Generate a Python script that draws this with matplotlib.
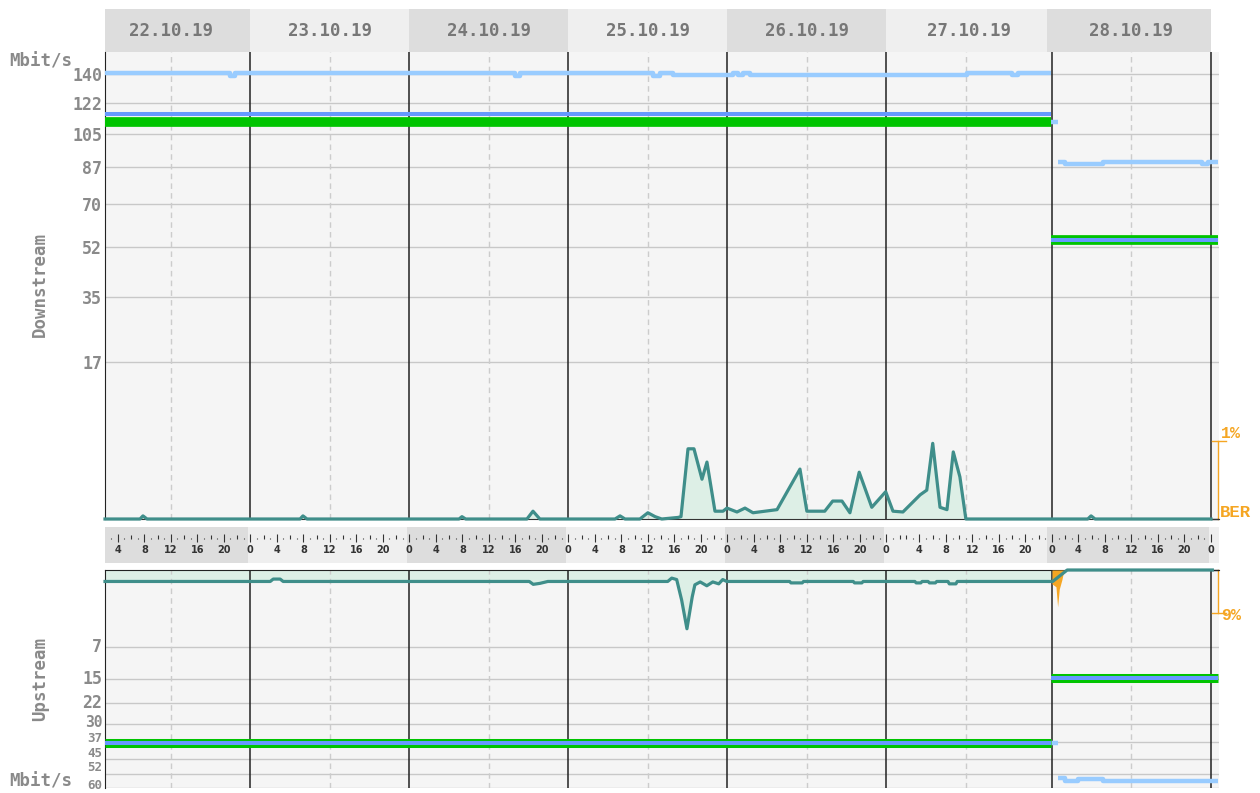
import numpy as np
import matplotlib
matplotlib.use("Agg")
import matplotlib.pyplot as plt
import matplotlib.transforms as mtransforms

plt.rcParams['font.family'] = ['DejaVu Sans Mono', 'DejaVu Sans']
plt.rcParams['font.weight'] = 'bold'

# time axis: hours since 22.10.19 00:00 (27.10. has 25 h, end of DST)
days = ["22.10.19", "23.10.19", "24.10.19", "25.10.19", "26.10.19", "27.10.19", "28.10.19"]
day_start = [0, 24, 48, 72, 96, 120, 145]
day_len = [24, 24, 24, 24, 24, 25, 24]
day_end = 169
t_first, t_last = 2.06, 170.21

ds_ticks = [17.5, 35, 52.5, 70, 87.5, 105, 122.5, 140]
ds_labels = ["17", "35", "52", "70", "87", "105", "122", "140"]
us_ticks = [7.5, 15, 22.5, 30, 37.5, 45, 52.5, 60]
us_labels = ["7", "15", "22", "30", "37", "45", "52", "60"]

# downstream rates, Mbit/s (nan = gap)
ds_cap_t = [2.06, 20.92, 21.67, 63.94, 64.70, 84.77, 85.83, 87.79, 96.85, 97.6, 98.36, 99.4,
            132.2, 133.7, 138.96, 139.87, 144.92, 144.92, 145.9, 145.9, 146.96, 152.7,
            167.6, 168.5, 170.1]
ds_cap_v = [140.5, 139.0, 140.5, 139.0, 140.5, 139.0, 140.5, 139.4, 141.0, 139.4, 141.0, 139.4,
            140.5, 141.0, 139.4, 141.0, np.nan, 111.5, np.nan, 90.3, 89.1, 90.3,
            89.1, 90.3, 90.3]
ds_max_t = [2.06, 144.92, 144.92, 170.1]
ds_max_v = [116.0, np.nan, 54.9, 54.9]
ds_rate_t = [2.06, 144.92, 144.92, 170.1]
ds_rate_v = [111.5, np.nan, 54.9, 54.9]

# downstream BER, %
ber_t = [2.06, 7.34, 7.79, 8.4, 31.5, 31.94, 32.55, 55.5, 55.94, 56.5, 65.75, 66.66, 67.7,
         79.04, 79.8, 80.55, 82.8, 84.0, 85.1, 86.1, 88.55, 89.0, 90.06, 90.96, 92.17, 92.92,
         94.13, 95.34, 95.94, 97.45, 98.66, 99.87, 103.5, 106.96, 108.0, 110.7, 111.9, 113.3,
         114.5, 115.9, 117.8, 119.9, 121.0, 122.5, 125.1, 126.1, 127.0, 128.1, 129.15, 130.1,
         131.1, 132.0, 150.4, 150.9, 151.5, 169.0]
ber_v = [0, 0, 0.04, 0, 0, 0.04, 0, 0, 0.03, 0, 0, 0.1, 0,
         0, 0.04, 0, 0, 0.08, 0.03, 0, 0.02, 0.03, 0.9, 0.9, 0.51, 0.73,
         0.10, 0.10, 0.14, 0.09, 0.14, 0.08, 0.12, 0.64, 0.10, 0.10, 0.23, 0.23,
         0.08, 0.60, 0.15, 0.35, 0.10, 0.09, 0.31, 0.37, 0.97, 0.15, 0.12, 0.86,
         0.54, 0, 0, 0.04, 0, 0]

# upstream rates, Mbit/s
us_cap_t = [144.92, 145.9, 145.9, 146.96, 148.9, 152.7, 170.1]
us_cap_v = [37.9, np.nan, 54.5, 56.2, 55.2, 56.2, 56.2]
us_max_t = [2.06, 144.92, 144.92, 170.1]
us_max_v = [38.0, np.nan, 14.6, 14.6]
us_rate_t = [2.06, 144.92, 144.92, 170.1]
us_rate_v = [38.0, np.nan, 14.6, 14.6]

# upstream error share, %
us_err_t = [2.06, 27.0, 27.45, 28.5, 28.95, 66.1, 66.7, 67.7, 68.9, 87.0, 87.6, 88.35, 89.1,
            89.9, 90.7, 91.1, 91.9, 92.9, 93.8, 94.7, 95.3, 95.9, 105.4, 105.6, 107.3, 107.5,
            115.0, 115.2, 116.3, 116.5, 124.3, 124.5, 125.2, 125.4, 126.3, 126.5, 127.4, 127.6,
            129.3, 129.5, 130.5, 130.7, 145.1, 147.3, 169.2]
us_err_v = [2.4, 2.4, 1.9, 1.9, 2.4, 2.4, 3.0, 2.8, 2.4, 2.4, 1.7, 2.0, 6.3,
            12.3, 5.6, 3.1, 2.5, 3.3, 2.5, 2.9, 2.0, 2.4, 2.4, 2.7, 2.7, 2.4,
            2.4, 2.7, 2.7, 2.4, 2.4, 2.7, 2.7, 2.4, 2.4, 2.7, 2.7, 2.4,
            2.4, 2.9, 2.9, 2.4, 2.4, 0, 0]
us_warn_t = [145.0, 145.6, 145.85, 146.1, 146.5, 146.8]
us_warn_v = [2.9, 3.5, 7.7, 4.0, 2.0, 0]

LBLUE = '#99ccff'
BLUE = '#6699ff'
GREEN = '#00c400'
TEAL = '#3f8e8a'
TFILL = '#ddefe6'
ORANGE = '#f5a623'
GRAY = '#8a8a8a'

W, H = 1260, 793
fig = plt.figure(figsize=(W / 100, H / 100), dpi=100)


def box(x0, y0, x1, y1):
    return fig.add_axes([x0 / W, 1 - y1 / H, (x1 - x0) / W, (y1 - y0) / H])


def fwd(v):
    return np.sqrt(np.maximum(v, 0))


def inv(v):
    return np.square(v)


ax_hd = box(105, 9, 1219, 52)
ax_ds = box(105, 52, 1219, 519)
ax_tk = box(105, 527, 1219, 563)
ax_us = box(105, 570, 1219, 788)
ax_ber = box(105, 52, 1219, 519)
ax_pct = box(105, 570, 1219, 788)

for a in (ax_hd, ax_ds, ax_tk, ax_us, ax_ber, ax_pct):
    a.set_xlim(t_first, t_last)

ax_ber.set_ylim(0, 467 / 78)
ax_pct.set_ylim(218 / 43 * 9, 0)
ax_ber.set_visible(False)
ax_pct.set_visible(False)

# header with dates
ax_hd.set_ylim(0, 1)
ax_hd.axis('off')
for i, (s, n) in enumerate(zip(day_start, day_len)):
    left = max(s, t_first) - (0.75 if i == 6 else 0)
    right = s + n - (0.75 if i == 5 else 0)
    ax_hd.axvspan(left, right, color='#dddddd' if i % 2 == 0 else '#efefef', lw=0)
    ax_hd.text(s + n / 2, 0.5, days[i], ha='center', va='center', fontsize=12.5, color='#777777')

# hour strip
ax_tk.set_ylim(0, 1)
ax_tk.set_facecolor('#efefef')
for sp in ax_tk.spines.values():
    sp.set_visible(False)
ax_tk.set_xticks([])
ax_tk.set_yticks([])
for i, (s, n) in enumerate(zip(day_start, day_len)):
    if i % 2 == 0:
        left = max(s, t_first) - (0.75 if i == 6 else 0.3)
        ax_tk.axvspan(left, s + n - 0.3, color='#dddddd', lw=0)
    for k in range(n):
        hr = k if n == 24 or k < 3 else k - 1
        t = s + k
        if t < t_first:
            continue
        if hr % 4 == 0:
            ax_tk.vlines(t, 0.597, 0.806, color='#333333', lw=0.8)
            ax_tk.text(t, 0.36, str(hr), ha='center', va='center', fontsize=7,
                       color='#333333', family='DejaVu Sans')
        elif hr % 2 == 0:
            ax_tk.vlines(t, 0.667, 0.764, color='#333333', lw=0.8)
        else:
            ax_tk.vlines(t, 0.667, 0.708, color='#333333', lw=0.8)
ax_tk.vlines(day_end, 0.597, 0.806, color='#333333', lw=0.8)
ax_tk.text(day_end, 0.36, '0', ha='center', va='center', fontsize=7,
           color='#333333', family='DejaVu Sans')

# common frame for both panels
for a, ticks in ((ax_ds, ds_ticks), (ax_us, us_ticks)):
    a.set_facecolor('#f5f5f5')
    a.set_yscale('function', functions=(fwd, inv))
    a.set_xticks([])
    for v in ticks:
        a.axhline(v, color='#c8c8c8', lw=1, zorder=1)
    for s, n in zip(day_start, day_len):
        a.axvline(s + 12, color='#cccccc', lw=1, ls=(0, (4, 3)), zorder=1.5)
    for s in day_start[1:] + [day_end]:
        a.axvline(s, color='#222222', lw=1.1, zorder=2)
    for sp in a.spines.values():
        sp.set_visible(False)
    a.spines['left'].set_visible(True)
    a.spines['left'].set_color('#222222')

ax_ds.set_yticks(ds_ticks)
ax_ds.set_yticklabels(ds_labels)
ax_ds.tick_params(axis='y', length=0, pad=2, labelsize=12, labelcolor=GRAY)

# upstream labels are packed tightly at the bottom, nudge them apart by hand
ax_us.set_yticks([])
tr_us_lab = mtransforms.blended_transform_factory(ax_us.transAxes, ax_us.transData)
nudge = {'30': 1.15, '37': 2.9, '45': 4.1, '52': 4.3, '60': -0.7}
lab_size = {'7': 12, '15': 12, '22': 12, '30': 10.5}
for v, lbl in zip(us_ticks, us_labels):
    ax_us.annotate(lbl, xy=(0, v), xycoords=tr_us_lab, xytext=(-2, nudge.get(lbl, 0)),
                   textcoords='offset points', ha='right',
                   va='baseline' if lbl == '60' else 'center',
                   fontsize=lab_size.get(lbl, 9), color=GRAY, annotation_clip=False)

ax_ds.set_ylim(0, 154.3)
ax_us.set_ylim(60, 0)
ax_ds.spines['bottom'].set_visible(True)
ax_ds.spines['bottom'].set_color('#333333')
ax_ds.spines['bottom'].set_linewidth(0.8)
ax_us.spines['top'].set_visible(True)
ax_us.spines['top'].set_color('#222222')

tr_ber = mtransforms.blended_transform_factory(ax_ds.transData, ax_ber.transData)
tr_pct = mtransforms.blended_transform_factory(ax_us.transData, ax_pct.transData)

# downstream
ax_ds.fill_between(ber_t, 0, ber_v, color=TFILL, lw=0, transform=tr_ber, zorder=1.2)
ax_ds.plot(ber_t, ber_v, color=TEAL, lw=2.3, transform=tr_ber, zorder=3, clip_on=False)
ax_ds.plot(ds_cap_t, ds_cap_v, color=LBLUE, lw=3.2, drawstyle='steps-post',
           solid_capstyle='butt', zorder=4)
ax_ds.plot(ds_rate_t, ds_rate_v, color=GREEN, lw=7.0, drawstyle='steps-post',
           solid_capstyle='butt', zorder=4)
ax_ds.plot(ds_max_t, ds_max_v, color=BLUE, lw=2.9, drawstyle='steps-post',
           solid_capstyle='butt', zorder=5)

# upstream
ax_us.fill_between(us_err_t, 0, us_err_v, color=TFILL, lw=0, transform=tr_pct, zorder=1.2)
ax_us.fill_between(us_warn_t, 0, us_warn_v, color=ORANGE, lw=0, transform=tr_pct, zorder=3)
ax_us.plot(us_err_t, us_err_v, color=TEAL, lw=2.3, transform=tr_pct, zorder=3.5, clip_on=False)
ax_us.plot(us_cap_t, us_cap_v, color=LBLUE, lw=3.2, drawstyle='steps-post',
           solid_capstyle='butt', zorder=4)
ax_us.plot(us_rate_t, us_rate_v, color=GREEN, lw=6.5, drawstyle='steps-post',
           solid_capstyle='butt', zorder=4)
ax_us.plot(us_max_t, us_max_v, color=BLUE, lw=2.9, drawstyle='steps-post',
           solid_capstyle='butt', zorder=5)


# orange scale brackets on the right
def xa(px):
    return (px - 105) / 1114


for a, ov, top, lab, lab_y in ((ax_ds, ax_ber, 1, '1%', 1.04), (ax_us, ax_pct, 9, '9%', 10.5)):
    tr = mtransforms.blended_transform_factory(a.transAxes, ov.transData)
    a.plot([xa(1218), xa(1218)], [0, top], color=ORANGE, lw=1, transform=tr, clip_on=False)
    a.plot([xa(1212), xa(1226)], [top, top], color=ORANGE, lw=1, transform=tr, clip_on=False)
    a.plot([xa(1211), xa(1218)], [0, 0], color='#222222', lw=1, transform=tr, clip_on=False)
    a.text(xa(1221), lab_y, lab, transform=tr, color=ORANGE, fontsize=12, va='baseline',
           family=['Liberation Mono', 'DejaVu Sans Mono'])
ax_ds.text(xa(1220), 0.03, 'BER', transform=mtransforms.blended_transform_factory(
    ax_ds.transAxes, ax_ber.transData), color=ORANGE, fontsize=12.5, va='baseline',
    family=['Liberation Mono', 'DejaVu Sans Mono'])

# side labels
fig.text(9 / W, 1 - 67 / H, 'Mbit/s', fontsize=12.5, color=GRAY, va='baseline')
fig.text(9 / W, 1 - 787 / H, 'Mbit/s', fontsize=12.5, color=GRAY, va='baseline')
fig.text(40 / W, 1 - 285 / H, 'Downstream', fontsize=12.5, color=GRAY, rotation=90,
         ha='center', va='center')
fig.text(40 / W, 1 - 679 / H, 'Upstream', fontsize=12.5, color=GRAY, rotation=90,
         ha='center', va='center')

fig.savefig('out.png', dpi=100)
